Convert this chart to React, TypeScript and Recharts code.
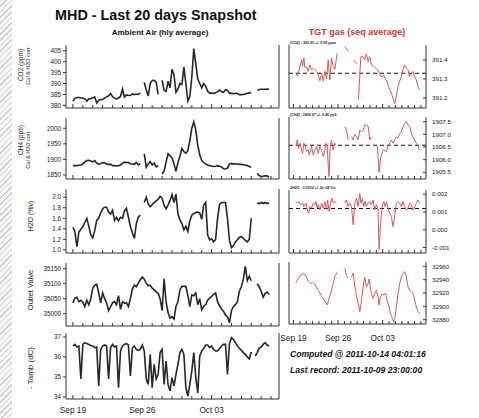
import { Line, LineChart, ReferenceLine, XAxis, YAxis } from "recharts";

const FONT = "'Liberation Sans', Arial, Helvetica, sans-serif";
const AXIS = "#333";
const INK = "#1a1a1a";
const AMBIENT_INK = "#262626";
const TGT_RED = "#d65a58";

// ambient air, hourly averages thinned to one value every 0.2 day from Sep 19 00:00
const SAMPLES_PER_DAY = 5;

const ambientCo2 = [
  381.9, 383.2, 383.6, 383.6, 383.4, 383.4, 383.0, 381.9, 383.0, 383.0,
  383.5, 383.8, 381.1, 382.4, 382.6, 382.8, 383.3, 383.9, 384.4, 385.4,
  384.0, 383.3, 383.0, 383.4, 384.1, 387.4, 383.8, 384.8, 384.6, 384.5,
  385.2, 384.9, 385.2, 385.0, 385.6, null, 390.5, 387.0, 384.3, 390.0,
  391.4, 391.5, 390.6, 385.0, null, 391.5, 387.0, 386.4, 391.0, 388.0,
  396.5, 394.0, 386.0, 387.5, 390.0, 389.5, 397.5, 390.0, 382.0, 384.0,
  393.0, 406.0, 399.0, 392.0, 390.0, 388.0, 390.0, 388.8, 386.4, 385.6,
  385.6, 385.5, 385.8, 386.3, 387.0, 386.2, 386.0, 387.2, 386.8, 385.5,
  385.6, 385.3, 385.5, 385.4, 384.9, 384.9, 385.0, 385.2, 385.5, 385.7,
  385.9, null, null, 386.8, 387.3, 387.4, 387.4, 387.4, 387.5, 387.4,
  null,
];

const ambientCh4 = [
  1880, 1880, 1880, 1881, 1882, 1885, 1892, 1896, 1897, 1895,
  1892, 1896, 1888, 1885, 1886, 1890, 1889, 1885, 1884, 1884,
  1880, 1880, 1879, 1880, 1882, 1887, 1891, 1890, 1890, 1886,
  1885, 1884, 1890, 1883, 1886, null, 1918, 1875, 1885, 1893,
  1882, 1888, 1876, 1880, null, 1853, 1862, 1891, 1918, 1912,
  1905, 1885, 1862, 1890, 1910, 1935, 1925, 1920, 1928, 1960,
  2000, 2021, 1995, 1945, 1915, 1896, 1890, 1885, 1882, 1880,
  1879, 1877, 1878, 1880, 1878, 1876, 1870, 1869, 1872, 1885,
  1887, 1885, 1886, 1885, 1884, 1884, 1883, 1882, 1880, 1877,
  1875, null, null, 1855, 1848, 1845, 1846, 1847, 1847, 1842,
  null,
];

const ambientH2o = [
  1.43, 1.34, 1.06, 1.34, 1.39, 1.44, 1.52, 1.6, 1.45, 1.29,
  1.23, 1.37, 1.56, 1.6, 1.7, 1.78, 1.81, 1.81, 1.72, 1.68,
  1.75, 1.56, 1.62, 1.55, 1.62, 1.6, 1.74, 1.79, 1.62, 1.45,
  1.32, 1.22, 1.5, 1.62, 1.66, null, 1.9, 2.0, 1.88, 1.82,
  1.86, 1.9, 1.93, 1.96, 2.02, 1.98, 1.85, 1.78, 1.85, 1.94,
  2.05, 1.9, 2.06, 1.68, 1.57, 1.5, 1.38, 1.45, 1.35, 1.55,
  1.66, 1.69, 1.71, 1.72, 1.7, 1.58, 1.85, 1.9, 1.28, 1.19,
  1.21, 1.15, 1.2, 1.6, 1.87, 1.9, 1.9, 1.9, 1.6, 1.18,
  1.04, 1.08, 1.15, 1.19, 1.24, 1.25, 1.22, 1.18, 1.15, 1.2,
  1.6, null, null, 1.89, 1.88, 1.9, 1.88, 1.9, 1.88, 1.89,
  null,
];

const outletValve = [
  35036, 35052, 35055, 35040, 35045, 35038, 35024, 35045, 35030, 35050,
  35085, 35095, 35098, 35070, 35036, 35069, 35050, 35036, 35010, 35024,
  35036, 35040, 35030, 35060, 35015, 35040, 35035, 35036, 35024, 35050,
  35082, 35095, 35090, 35102, 35113, 35122, 35115, 35102, 35093, 35095,
  35085, 35080, 35073, 35068, 35050, 35010, 35116, 35040, 35004, 34985,
  34990, 34982, 35024, 35040, 35080, 35091, 35091, 35091, 35060, 35024,
  35063, 35060, 35069, 35030, 35050, 35013, 35025, 35030, 35045, 35052,
  35058, 35064, 35069, 35040, 35026, 35015, 35008, 34995, 34990, 34970,
  35010, 35024, 35030, 35040, 35075, 35090, 35115, 35158, 35110, 35125,
  35110, null, null, 35100, 35090, 35075, 35055, 35068, 35072, 35064,
  null,
];

// plotted as minus ambient temperature
const minusTamb = [
  36.55, 36.63, 36.5, 36.55, 34.9, 36.63, 36.72, 36.67, 36.63, 36.58,
  36.55, 36.47, 36.5, 34.55, 36.38, 36.55, 36.6, 36.55, 34.9, 36.47,
  36.63, 36.5, 36.55, 34.47, 36.3, 36.55, 36.63, 36.67, 36.6, 35.05,
  36.45, 36.55, 36.38, 36.33, 36.38, 36.6, 36.3, 34.9, 34.63, 36.13,
  34.47, 35.63, 34.9, 35.13, 36.22, 36.38, 34.63, 35.8, 34.63, 34.3,
  34.97, 34.55, 35.13, 35.63, 36.22, 36.38, 36.13, 34.47, 34.05, 34.63,
  35.3, 36.22, 34.97, 34.2, 36.05, 36.3, 36.43, 36.6, 36.6, 36.47,
  36.55, 36.38, 36.3, 36.3, 36.43, 36.55, 36.63, 36.63, 35.13, 36.67,
  36.97, 36.88, 36.72, 36.55, 36.43, 36.33, 36.22, 36.13, 36.0, 35.9,
  36.25, null, 36.05, 36.22, 36.43, 36.5, 36.63, 36.72, 36.6, 36.55,
  null,
];

// target gas sequence averages: [day since Sep 19, value]
const seqCo2: Array<[number, number | null]> = [
  [0.39, 391.33], [0.65, 391.316], [0.91, 391.35], [1.28, 391.4], [1.43, 391.365],
  [1.64, 391.41], [1.8, 391.36], [2.06, 391.365], [2.32, 391.34], [2.58, 391.374],
  [2.84, 391.348], [3.11, 391.357], [3.37, 391.348], [3.63, 391.34], [3.89, 391.322],
  [4.15, 391.29], [4.41, 391.33], [4.67, 391.29], [4.93, 391.34], [5.19, 391.3],
  [5.45, 391.4], [5.71, 391.295], [5.97, 391.41], [6.24, 391.365], [6.5, 391.35],
  [6.86, 391.435], [7.4, null], [8.06, 391.47], [8.58, 391.445], [9.0, null],
  [9.47, 391.4], [9.89, 391.38], [10.05, null], [10.2, 391.19], [10.57, 391.417],
  [10.93, 391.417], [11.19, 391.4], [11.45, 391.43], [11.71, 391.39], [11.97, 391.417],
  [12.23, 391.374], [12.5, 391.37], [13.18, 391.348], [13.54, 391.33], [13.7, 391.313],
  [13.96, 391.313], [14.17, 391.32], [14.48, 391.295], [14.69, 391.29], [14.9, 391.26],
  [15.1, 391.245], [15.36, 391.226], [15.62, 391.2], [15.88, 391.17], [16.14, 391.21],
  [16.41, 391.26], [16.67, 391.29], [16.93, 391.313], [17.19, 391.348], [17.45, 391.374],
  [17.72, 391.357], [17.98, 391.348], [18.24, 391.313], [18.5, 391.33], [18.76, 391.34],
  [19.03, 391.313], [19.28, 391.295], [19.55, 391.26], [19.8, 391.243],
];

const seqCh4: Array<[number, number | null]> = [
  [0.39, 1906.54], [0.6, 1906.78], [0.81, 1906.45], [1.02, 1906.65], [1.28, 1906.38],
  [1.43, 1906.25], [1.64, 1906.65], [1.85, 1906.52], [2.06, 1906.32], [2.32, 1906.38],
  [2.48, 1906.18], [2.69, 1906.38], [2.84, 1906.52], [3.11, 1906.18], [3.37, 1906.38],
  [3.63, 1906.52], [3.89, 1906.25], [4.15, 1906.52], [4.41, 1906.38], [4.67, 1906.12],
  [4.93, 1906.38], [5.09, 1906.65], [5.3, 1906.52], [5.56, 1905.33], [5.77, 1906.52],
  [5.97, 1906.78], [6.24, 1906.38], [6.5, 1906.65], [6.65, 1906.58], [7.4, null],
  [8.06, 1907.3], [8.32, 1907.17], [8.58, 1906.78], [8.85, null], [9.1, 1906.9],
  [9.37, 1906.78], [9.63, 1907.0], [9.89, 1906.9], [10.15, 1906.78], [10.42, 1907.17],
  [10.68, 1907.1], [10.93, 1907.17], [11.19, 1907.37], [11.45, 1907.37], [11.71, 1907.33],
  [11.97, 1906.78], [12.23, 1906.9], [12.7, null], [13.17, 1906.55], [13.43, 1905.5],
  [13.7, 1906.1], [13.96, 1906.3], [14.17, 1906.4], [14.58, 1906.3], [14.84, 1906.52],
  [15.1, 1906.65], [15.36, 1906.78], [15.62, 1906.65], [15.88, 1906.78], [16.14, 1906.9],
  [16.41, 1906.85], [16.67, 1907.04], [16.93, 1907.1], [17.19, 1907.3], [17.45, 1907.43],
  [17.72, 1907.5], [17.98, 1907.37], [18.24, 1907.3], [18.5, 1907.04], [18.76, 1906.9],
  [19.03, 1906.78], [19.28, 1906.65], [19.55, 1906.52], [19.8, 1906.38],
];

const seqH2o: Array<[number, number | null]> = [
  [0.39, 0.00159], [0.6, 0.0015], [0.91, 0.00159], [1.12, 0.00141], [1.43, 0.0015],
  [1.64, 0.00131], [1.96, 0.0015], [2.17, 0.00112], [2.38, 0.00093], [2.58, 0.00131],
  [2.84, 0.00122], [3.11, 0.0015], [3.37, 0.00141], [3.52, 0.00159], [3.73, 0.00122],
  [3.89, 0.00141], [4.15, 0.00112], [4.41, 0.0015], [4.67, 0.00122], [4.93, 0.00159],
  [5.19, 0.00112], [5.35, 0.00168], [5.61, 0.00103], [5.82, 0.0015], [6.03, 0.00178],
  [6.24, 0.0015], [6.5, 0.00159], [6.76, 0.0015], [7.4, null], [8.06, 0.0015],
  [8.32, 0.00168], [8.53, 0.00131], [8.84, 0.0015], [9.1, 0.00131], [9.37, 0.00028],
  [9.63, 0.0015], [9.89, 0.00178], [10.15, 0.00131], [10.42, 0.00205], [10.57, 0.0015],
  [10.83, 0.00178], [11.04, 0.00131], [11.24, 0.00159], [11.45, 0.00131], [11.71, 0.0015],
  [11.97, 0.00159], [12.23, 0.00141], [12.5, 0.00168], [12.76, 0.00112], [13.02, 0.00141],
  [13.28, 0.00112], [13.43, -0.00112], [13.64, 0.00018], [13.9, 0.00131], [14.17, 0.00159],
  [14.38, 0.00131], [14.58, 0.00159], [14.84, 0.00122], [15.1, 0.00093], [15.36, 0.00075],
  [15.62, 0.00018], [15.88, 0.00075], [16.14, 0.0015], [16.41, 0.00159], [16.67, 0.0015],
  [16.93, 0.00131], [17.19, 0.00159], [17.45, 0.00131], [17.72, 0.00112], [17.98, 0.00122],
  [18.24, 0.0015], [18.5, 0.00141], [18.76, 0.00112], [19.03, 0.00131], [19.28, 0.0015],
  [19.55, 0.00168], [19.8, 0.0015],
];

const seqValve: Array<[number, number | null]> = [
  [0.39, 32935], [0.76, 32942], [1.12, 32947], [1.54, 32949], [1.96, 32946],
  [2.32, 32938], [2.69, 32934], [3.0, 32936], [3.37, 32933], [3.89, 32924],
  [4.41, 32916], [4.93, 32908], [5.3, 32902], [5.71, 32915], [6.13, 32930],
  [6.5, 32945], [6.86, 32951], [7.4, null], [8.06, 32957], [8.32, 32946],
  [8.58, 32942], [8.85, null], [9.1, 32944], [9.37, 32950], [9.63, 32930],
  [9.89, 32916], [10.15, 32905], [10.42, 32892], [10.68, 32909], [10.93, 32929],
  [11.19, 32944], [11.45, 32929], [11.71, 32934], [11.87, 32941], [12.07, 32929],
  [12.23, 32919], [12.5, 32912], [12.76, 32919], [13.02, 32924], [13.28, 32914],
  [13.43, 32902], [13.64, 32914], [13.96, 32919], [14.17, 32917], [14.48, 32919],
  [14.69, 32909], [15.0, 32899], [15.2, 32889], [15.52, 32882], [15.73, 32876],
  [15.94, 32884], [16.14, 32899], [16.41, 32919], [16.67, 32934], [16.93, 32944],
  [17.19, 32949], [17.45, 32952], [17.72, 32944], [17.98, 32929], [18.24, 32924],
  [18.5, 32922], [18.76, 32919], [19.03, 32909], [19.28, 32899], [19.55, 32892],
  [19.8, 32889],
];

const seqMeans = { co2: 391.33, ch4: 1906.57, h2o: 0.0012 };

const dayTicks = [0, 1, 2, 3, 4, 5, 6, 7, 8, 9, 10, 11, 12, 13, 14, 15, 16, 17, 18, 19, 20];
const dateLabels: Record<number, string> = { 0: "Sep 19", 7: "Sep 26", 14: "Oct 03" };
const dayDomain: [number, number] = [-0.7, 20.8];

type Row = { day: number; v: number | null };

const hourlyRows = (vals: Array<number | null>): Row[] =>
  vals.map((v, i) => ({ day: i / SAMPLES_PER_DAY, v }));

const seqRows = (pairs: Array<[number, number | null]>): Row[] =>
  pairs.map(([day, v]) => ({ day, v }));

const fixed = (n: number) => (v: number) => v.toFixed(n);

function DayTick(props: any) {
  const { x, y, payload, gap } = props;
  const label = dateLabels[payload.value];
  return (
    <g>
      <line x1={x} x2={x} y1={y} y2={y - (label ? 4 : 3)} stroke={AXIS} strokeWidth={1} />
      {label && gap ? (
        <text x={x} y={y + gap} textAnchor="middle" fontSize={8.3} fill={INK} fontFamily={FONT}>
          {label}
        </text>
      ) : null}
    </g>
  );
}

// right-hand value axis: ticks point into the plot, labels sit outside
function InnerTick(props: any) {
  const { x, y, payload, fmt } = props;
  return (
    <g>
      <line x1={x} x2={x - 3} y1={y} y2={y} stroke={AXIS} strokeWidth={1} />
      <text x={x + 6} y={y} dy="0.35em" fontSize={6.2} fill={INK} fontFamily={FONT}>
        {fmt(payload.value)}
      </text>
    </g>
  );
}

type PanelProps = {
  x: number;
  y: number;
  w: number;
  h: number;
  rows: Row[];
  domain: [number, number];
  ticks: number[];
  fmt: (v: number) => string;
  side: "left" | "right";
  dateGap?: number;
  mean?: number;
};

function Panel({ x, y, w, h, rows, domain, ticks, fmt, side, dateGap, mean }: PanelProps) {
  const axisW = 40;
  const xAxisH = dateGap ? dateGap + 4 : 4;
  const left = side === "left" ? x - axisW : x;
  const ambient = side === "left";
  return (
    <div style={{ position: "absolute", left, top: y }}>
      <LineChart
        width={w + axisW}
        height={h + xAxisH}
        data={rows}
        margin={{ top: 0, right: 0, bottom: 0, left: 0 }}
      >
        <XAxis
          dataKey="day"
          type="number"
          domain={dayDomain}
          allowDataOverflow
          ticks={dayTicks}
          interval={0}
          height={xAxisH}
          stroke={AXIS}
          tickLine={false}
          tickSize={0}
          tickMargin={0}
          tick={(p: any) => <DayTick {...p} gap={dateGap} />}
        />
        {ambient ? (
          <YAxis
            type="number"
            domain={domain}
            allowDataOverflow
            ticks={ticks}
            interval={0}
            width={axisW}
            stroke={AXIS}
            tickSize={3}
            tickMargin={2}
            tickFormatter={fmt}
            tick={{ fontSize: 6.3, fill: INK, fontFamily: FONT }}
          />
        ) : (
          <YAxis
            type="number"
            orientation="right"
            domain={domain}
            allowDataOverflow
            ticks={ticks}
            interval={0}
            width={axisW}
            stroke={AXIS}
            tickLine={false}
            tickSize={0}
            tickMargin={0}
            tick={(p: any) => <InnerTick {...p} fmt={fmt} />}
          />
        )}
        <ReferenceLine
          x={ambient ? dayDomain[1] : dayDomain[0]}
          stroke={AXIS}
          ifOverflow="visible"
        />
        {mean !== undefined && (
          <ReferenceLine y={mean} stroke="#111" strokeWidth={1.1} strokeDasharray="4 3" />
        )}
        <Line
          dataKey="v"
          type="linear"
          stroke={ambient ? AMBIENT_INK : TGT_RED}
          strokeWidth={ambient ? 1.6 : 1}
          dot={false}
          connectNulls={false}
          isAnimationActive={false}
        />
      </LineChart>
    </div>
  );
}

function SideTitle({ x, y, text, size }: { x: number; y: number; text: string; size: number }) {
  return (
    <text
      transform={`translate(${x},${y}) rotate(-90)`}
      textAnchor="middle"
      fontSize={size}
      fill={INK}
      fontFamily={FONT}
    >
      {text}
    </text>
  );
}

export default function App() {
  const L = { x: 66, w: 213 };
  const R = { x: 289, w: 137 };
  return (
    <div
      style={{
        position: "absolute",
        left: 0,
        top: 0,
        width: 479,
        height: 418,
        background: "#fff",
        overflow: "hidden",
        fontFamily: FONT,
      }}
    >
      <style>{`.recharts-surface{overflow:visible}`}</style>
      <div
        style={{
          position: "absolute",
          left: 0,
          top: 0,
          width: 12,
          height: 418,
          background: "repeating-linear-gradient(135deg, #cdcdcd 0 1px, #f7f7f7 1px 4px)",
        }}
      />

      <Panel {...L} y={45} h={63} rows={hourlyRows(ambientCo2)} domain={[378.8, 407.6]}
        ticks={[380, 385, 390, 395, 400, 405]} fmt={fixed(0)} side="left" />
      <Panel {...L} y={118} h={61} rows={hourlyRows(ambientCh4)} domain={[1837, 2033]}
        ticks={[1850, 1900, 1950, 2000]} fmt={fixed(0)} side="left" />
      <Panel {...L} y={189} h={64} rows={hourlyRows(ambientH2o)} domain={[0.94, 2.157]}
        ticks={[1.0, 1.2, 1.4, 1.6, 1.8, 2.0]} fmt={fixed(1)} side="left" />
      <Panel {...L} y={263} h={63} rows={hourlyRows(outletValve)} domain={[34959, 35169]}
        ticks={[35000, 35050, 35100, 35150]} fmt={fixed(0)} side="left" />
      <Panel {...L} y={333} h={66} rows={hourlyRows(minusTamb)} domain={[33.9, 37.2]}
        ticks={[34, 35, 36, 37]} fmt={fixed(0)} side="left" dateGap={14} />

      <Panel {...R} y={45} h={63} rows={seqRows(seqCo2)} domain={[391.148, 391.478]}
        ticks={[391.2, 391.3, 391.4]} fmt={fixed(1)} side="right" mean={seqMeans.co2} />
      <Panel {...R} y={117} h={62} rows={seqRows(seqCh4)} domain={[1905.236, 1907.685]}
        ticks={[1905.5, 1906.0, 1906.5, 1907.0, 1907.5]} fmt={fixed(1)} side="right" mean={seqMeans.ch4} />
      <Panel {...R} y={190} h={63} rows={seqRows(seqH2o)} domain={[-0.00131, 0.00224]}
        ticks={[-0.001, 0, 0.001, 0.002]} fmt={fixed(3)} side="right" mean={seqMeans.h2o} />
      <Panel {...R} y={262} h={62} rows={seqRows(seqValve)} domain={[32873.5, 32966.5]}
        ticks={[32880, 32900, 32920, 32940, 32960]} fmt={fixed(0)} side="right" dateGap={16.5} />

      <svg width={479} height={418} style={{ position: "absolute", left: 0, top: 0, pointerEvents: "none" }}>
        <text x={55} y={20} fontSize={14.4} fontWeight="bold" fill="#111" fontFamily={FONT}>
          MHD - Last 20 days Snapshot
        </text>
        <text x={160} y={34.5} textAnchor="middle" fontSize={8} fontWeight="bold" fill="#111" fontFamily={FONT}>
          Ambient Air (hly average)
        </text>
        <text x={357} y={35} textAnchor="middle" fontSize={9} fontWeight="bold" fill="#d0342f" fontFamily={FONT}>
          TGT gas (seq average)
        </text>

        <g fontStyle="italic" fontWeight="bold" fontSize={3.6} fill="#222" fontFamily={FONT}>
          <text x={290} y={44}>[CO2] : 391.33 +/- 0.06 ppm</text>
          <text x={290} y={116}>[CH4] : 1906.57 +/- 0.46 ppb</text>
          <text x={290} y={189}>δH2O : 0.0012 +/- 5e-04 %v</text>
        </g>

        <SideTitle x={22.5} y={65} text="CO2 (ppm)" size={6.5} />
        <SideTitle x={30} y={66} text="Cal & H2O corr" size={5.5} />
        <SideTitle x={22.5} y={140} text="CH4 (ppb)" size={6.5} />
        <SideTitle x={30} y={150} text="Cal & H2O corr" size={5.5} />
        <SideTitle x={32.5} y={216} text="H2O (%v)" size={7} />
        <SideTitle x={32.5} y={290} text="Outlet Valve" size={7.5} />
        <SideTitle x={32.5} y={368} text="- Tamb (dC)" size={8} />

        <g fontStyle="italic" fontWeight="bold" fontSize={8.6} fill="#111" fontFamily={FONT}>
          <text x={290} y={356.5}>Computed @ 2011-10-14 04:01:16</text>
          <text x={290} y={372.5}>Last record: 2011-10-09 23:00:00</text>
        </g>
      </svg>
    </div>
  );
}
